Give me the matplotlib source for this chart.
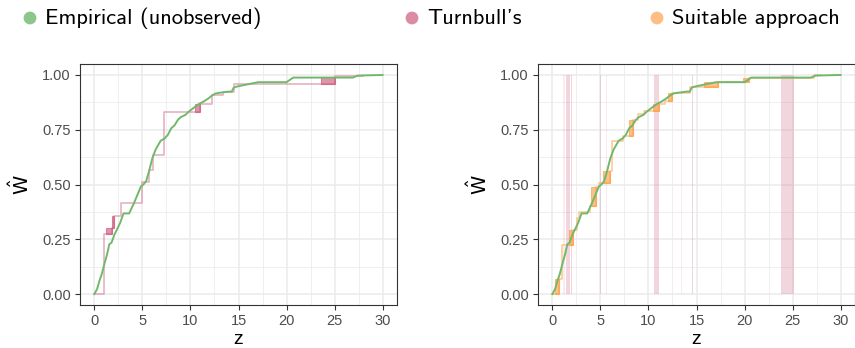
import matplotlib
matplotlib.use("Agg")
import matplotlib.pyplot as plt
from matplotlib.patches import Rectangle
from matplotlib.ticker import MultipleLocator

# empirical (unobserved) curve
emp_z = [0, 0.28, 0.52, 0.76, 1.03, 1.31, 1.55, 1.79, 2.07, 2.41, 2.69, 3.03, 3.62, 4.14,
         4.83, 5.1, 5.38, 5.69, 6.03, 6.38, 6.9, 7.31, 7.65, 8.0, 8.34, 8.69, 8.97, 9.48,
         9.83, 10.34, 10.86, 11.38, 11.9, 12.24, 12.59, 12.93, 13.45, 13.97, 14.3, 14.5,
         14.83, 15.7, 17.07, 20.0, 20.7, 26.9, 27.4, 30.0]
emp_w = [0, 0.023, 0.06, 0.09, 0.136, 0.18, 0.227, 0.235, 0.27, 0.30, 0.326, 0.368, 0.368,
         0.417, 0.49, 0.5, 0.515, 0.56, 0.62, 0.66, 0.70, 0.71, 0.727, 0.757, 0.77, 0.795,
         0.807, 0.818, 0.833, 0.85, 0.867, 0.879, 0.894, 0.906, 0.915, 0.918, 0.921, 0.924,
         0.924, 0.942, 0.947, 0.955, 0.967, 0.967, 0.988, 0.988, 0.997, 1.0]

# Turnbull's estimate (steps) and its non-unique boxes (z0, z1, w0, w1)
turn_z = [0, 0.97, 1.8, 2.0, 2.76, 4.93, 5.69, 6.14, 7.24, 11.0, 12.24, 13.38, 14.48, 25.0, 28.0]
turn_w = [0, 0.273, 0.30, 0.356, 0.417, 0.512, 0.568, 0.636, 0.833, 0.869, 0.909, 0.924, 0.958, 0.996, 0.996]
turn_boxes = [(1.2, 1.8, 0.273, 0.30), (1.8, 2.0, 0.30, 0.356),
              (10.5, 11.0, 0.833, 0.867), (23.6, 25.0, 0.958, 0.992)]

# Turnbull intervals shown as bands in the right panel
bands_strong = [(1.45, 1.86), (1.93, 2.07), (4.95, 5.1), (10.57, 11.1), (14.55, 14.65), (23.8, 25.1)]
bands_faint = [(1.1, 1.35), (5.6, 5.72), (12.3, 12.38), (13.42, 13.5)]

# suitable approach
suit_z = [0, 0.65, 1.0, 2.1, 2.55, 2.8, 3.93, 4.55, 4.8, 6.0, 6.2, 7.3, 8.4, 8.94, 9.5,
          11.1, 11.7, 12.4, 14.3, 17.2, 20.46, 25.1, 27.2, 28.0]
suit_w = [0, 0.07, 0.226, 0.294, 0.347, 0.373, 0.40, 0.49, 0.506, 0.56, 0.70, 0.72, 0.795,
          0.82, 0.834, 0.867, 0.882, 0.917, 0.943, 0.97, 0.985, 0.988, 1.0, 1.0]
suit_boxes = [(0.3, 0.65, 0, 0.07), (1.69, 2.1, 0.226, 0.294), (4.0, 4.55, 0.40, 0.49),
              (5.3, 6.0, 0.506, 0.56), (8.0, 8.4, 0.72, 0.795), (10.5, 11.1, 0.834, 0.867),
              (12.05, 12.4, 0.882, 0.917), (15.8, 17.2, 0.943, 0.97), (19.85, 20.46, 0.97, 0.985)]

labels = ["Empirical (unobserved)", "Turnbull's", "Suitable approach"]
x_ticks = [0, 5, 10, 15, 20, 25, 30]
y_ticks = [0, 0.25, 0.5, 0.75, 1.0]

GREEN = "#72B86C"
PINK = "#D6809A"
ORANGE = "#FDA95A"

plt.rcParams['font.family'] = ['Liberation Sans', 'DejaVu Sans']

fig = plt.figure(figsize=(8.55, 3.48), dpi=100)
ax1 = fig.add_axes([80/855, 43/348, 317/855, 241/348])
ax2 = fig.add_axes([538/855, 43/348, 317/855, 241/348])


def style(ax):
    ax.set_xlim(-1.5, 31.5)
    ax.set_ylim(-0.05, 1.05)
    ax.set_xticks(x_ticks)
    ax.set_yticks(y_ticks)
    ax.set_yticklabels([f"{v:.2f}" for v in y_ticks])
    ax.xaxis.set_minor_locator(MultipleLocator(2.5))
    ax.yaxis.set_minor_locator(MultipleLocator(0.125))
    ax.grid(which='major', color='#EBEBEB', lw=1.1, zorder=0)
    ax.grid(which='minor', color='#EBEBEB', lw=0.55, zorder=0)
    ax.set_axisbelow(True)
    ax.tick_params(which='major', length=3.5, width=0.8, color='#333333',
                   labelsize=10.5, labelcolor='#4D4D4D', pad=3)
    ax.tick_params(which='minor', length=0)
    for s in ax.spines.values():
        s.set_color('#333333')
        s.set_linewidth(0.8)
    ax.set_xlabel("z", fontsize=14, labelpad=2)
    ax.set_ylabel(r"$\hat{\mathsf{W}}$", fontsize=14, labelpad=7)


# left panel: Turnbull vs empirical
ax1.step(turn_z, turn_w, where='post', color=PINK, alpha=0.6, lw=1.2, zorder=2)
for z0, z1, w0, w1 in turn_boxes:
    ax1.add_patch(Rectangle((z0, w0), z1 - z0, w1 - w0, facecolor="#C94F73",
                            edgecolor="#C94F73", alpha=0.6, lw=0.8, zorder=2))
ax1.plot(emp_z, emp_w, color=GREEN, lw=1.4, zorder=3)
style(ax1)

# right panel: suitable approach vs empirical
for z0, z1 in bands_strong:
    ax2.add_patch(Rectangle((z0, 0), z1 - z0, 1, facecolor=PINK, edgecolor='none',
                            alpha=0.32, zorder=1))
for z0, z1 in bands_faint:
    ax2.add_patch(Rectangle((z0, 0), z1 - z0, 1, facecolor=PINK, edgecolor='none',
                            alpha=0.15, zorder=1))
ax2.step(suit_z, suit_w, where='post', color=ORANGE, alpha=0.6, lw=1.2, zorder=2)
for z0, z1, w0, w1 in suit_boxes:
    ax2.add_patch(Rectangle((z0, w0), z1 - z0, w1 - w0, facecolor="#FD9A3C",
                            edgecolor="#FD9A3C", alpha=0.6, lw=0.8, zorder=2))
ax2.plot(emp_z, emp_w, color=GREEN, lw=1.4, zorder=3)
style(ax2)

# legend along the top
leg = fig.add_axes([0, 0, 1, 1], facecolor='none')
leg.set_xlim(0, 855)
leg.set_ylim(348, 0)
leg.axis('off')
for xd, xt, lab, col in zip([30, 412, 657], [45, 427, 672], labels,
                            ["#8DC68A", "#DB8BA2", "#FDBE85"]):
    leg.scatter([xd], [18], s=85, color=col, edgecolor='none')
    leg.text(xt, 18, lab, fontsize=16.2, family=['cmss10', 'DejaVu Sans'],
             va='center', ha='left', color='black')

fig.savefig("out.png", dpi=100)
